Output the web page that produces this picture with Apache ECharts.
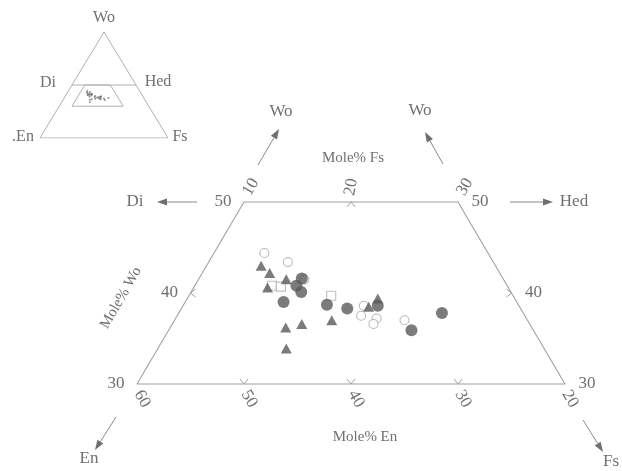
<!DOCTYPE html>
<html>
<head>
<meta charset="utf-8">
<script src="https://cdn.jsdelivr.net/npm/echarts@6/dist/echarts.min.js"></script>
<style>
  html, body { margin: 0; padding: 0; background: #fff; }
  #chart { width: 622px; height: 471px; }
</style>
</head>
<body>
<div id="chart"></div>
<script>
// Pyroxene quadrilateral (Di–Hed–En–Fs), compositions in mole %.
// Each point is given as Wo and Fs; En = 100 - Wo - Fs.
const filledCircleWo = [41.6, 40.8, 40.1, 39.0, 38.7, 38.3, 38.6, 35.9, 37.8];
const filledCircleFs = [19.6, 19.5, 20.3, 19.2, 23.4, 25.5, 28.2, 32.7, 34.6];
const triangleWo = [43.0, 42.2, 41.5, 40.6, 36.2, 36.6, 33.9, 37.0, 38.5, 39.4];
const triangleFs = [15.1, 16.3, 18.2, 16.9, 20.8, 22.1, 22.0, 24.7, 27.4, 27.8];
const openCircleWo = [44.4, 43.4, 41.5, 38.6, 37.5, 37.2, 36.6, 37.0];
const openCircleFs = [14.7, 17.4, 19.9, 26.9, 27.2, 28.8, 28.8, 31.5];
const squareWo = [40.8, 40.7, 39.7];
const squareFs = [17.2, 18.1, 23.3];

// Quadrilateral corners (Wo, Fs) and tick values
const quadWo = [50, 50, 30, 30];
const quadFs = [10, 30, 50, 10];
const enTickLabels = [60, 50, 40, 30, 20];
const fsTickLabels = [10, 20, 30];
const woTickLabels = [50, 40, 30];
const enTickMarks = [50, 40, 30];
const fsTickMarks = [20];
const woTickMarks = [40];

// ternary -> cartesian: x = Fs + Wo/2, y = Wo
function tern(wo, fs) { return [fs + wo / 2, wo]; }
function pts(woArr, fsArr) { return woArr.map((w, i) => tern(w, fsArr[i])); }

const SERIF = '"Liberation Serif", "DejaVu Serif", serif';
const TXT = '#707070';
const LINE = '#a0a0a0';
const MARK = '#5a5a5a';

const quadPts = pts(quadWo, quadFs);
quadPts.push(quadPts[0]);

// tick chevrons: [x, y, direction]
const tickData = [];
enTickMarks.forEach(en => tickData.push(tern(30, 70 - en).concat(['down'])));
fsTickMarks.forEach(fs => tickData.push(tern(50, fs).concat(['up'])));
woTickMarks.forEach(wo => {
  tickData.push(tern(wo, 10).concat(['left']));
  tickData.push(tern(wo, 80 - wo).concat(['right']));
});

// tick labels: [x, y, text, group]
const labelData = [];
enTickLabels.forEach(en => labelData.push(tern(30, 70 - en).concat([String(en), 'en'])));
fsTickLabels.forEach(fs => labelData.push(tern(50, fs).concat([String(fs), 'fs'])));
woTickLabels.forEach(wo => {
  labelData.push(tern(wo, 10).concat([String(wo), 'woL']));
  labelData.push(tern(wo, 80 - wo).concat([String(wo), 'woR']));
});

function renderTick(params, api) {
  const p = api.coord([api.value(0), api.value(1)]);
  const dir = tickData[params.dataIndex][2];
  const a = 4, d = 5;
  let pointsArr;
  if (dir === 'down') pointsArr = [[p[0] - a, p[1] - d], [p[0], p[1]], [p[0] + a, p[1] - d]];
  else if (dir === 'up') pointsArr = [[p[0] - a, p[1] + d], [p[0], p[1]], [p[0] + a, p[1] + d]];
  else if (dir === 'left') pointsArr = [[p[0] + d, p[1] - a], [p[0], p[1]], [p[0] + d, p[1] + a]];
  else pointsArr = [[p[0] - d, p[1] - a], [p[0], p[1]], [p[0] - d, p[1] + a]];
  return { type: 'polyline', shape: { points: pointsArr }, style: { stroke: LINE, lineWidth: 1, fill: null } };
}

function renderLabel(params, api) {
  const p = api.coord([api.value(0), api.value(1)]);
  const item = labelData[params.dataIndex];
  const text = item[2], grp = item[3];
  let dx = 0, dy = 0, rot = 0;
  if (grp === 'en') { dx = 5; dy = 15; rot = -60; }
  else if (grp === 'fs') { dx = text === '20' ? 0 : 7; dy = -15; rot = text === '20' ? 80 : 60; }
  else if (grp === 'woL') { dx = -21; }
  else { dx = 22; }
  return {
    type: 'text', x: p[0] + dx, y: p[1] + dy, rotation: rot * Math.PI / 180,
    style: { text: text, font: '17px ' + SERIF, fill: TXT, align: 'center', verticalAlign: 'middle' }
  };
}

function arrow(x1, y1, x2, y2) {
  const ang = Math.atan2(y2 - y1, x2 - x1);
  const L = 10, W = 3.5;
  const bx = x2 - L * Math.cos(ang), by = y2 - L * Math.sin(ang);
  const nx = -Math.sin(ang), ny = Math.cos(ang);
  return [
    { type: 'line', shape: { x1: x1, y1: y1, x2: bx, y2: by }, style: { stroke: '#8a8a8a', lineWidth: 1 } },
    { type: 'polygon', shape: { points: [[x2, y2], [bx + nx * W, by + ny * W], [bx - nx * W, by - ny * W]] }, style: { fill: '#6f6f6f' } }
  ];
}

function txt(x, y, s, size, rot) {
  return {
    type: 'text', x: x, y: y, rotation: (rot || 0) * Math.PI / 180,
    style: { text: s, font: size + 'px ' + SERIF, fill: TXT, align: 'center', verticalAlign: 'middle' }
  };
}

const graphics = []
  .concat(arrow(197, 202, 157, 202))
  .concat(arrow(510, 202, 553, 202))
  .concat(arrow(258, 165, 279, 129))
  .concat(arrow(443, 164, 425, 132))
  .concat(arrow(116, 417, 95, 450))
  .concat(arrow(583, 420, 603, 452))
  .concat([
    txt(135, 202, 'Di', 17), txt(574, 202, 'Hed', 17),
    txt(281, 112, 'Wo', 17), txt(420, 111, 'Wo', 17),
    txt(89, 459, 'En', 17), txt(611, 462, 'Fs', 17),
    txt(353, 158, 'Mole% Fs', 15), txt(365, 437, 'Mole% En', 15),
    txt(121, 298, 'Mole% Wo', 15, 60),
    txt(104, 18, 'Wo', 16), txt(48, 83, 'Di', 16), txt(158, 82, 'Hed', 16),
    txt(23, 137, '.En', 16), txt(180, 137, 'Fs', 16)
  ]);

const allPts = pts(openCircleWo, openCircleFs)
  .concat(pts(squareWo, squareFs))
  .concat(pts(triangleWo, triangleFs))
  .concat(pts(filledCircleWo, filledCircleFs));

const insetPts = pts(quadWo, quadFs);
insetPts.push(insetPts[0]);

const option = {
  animation: false,
  backgroundColor: '#fff',
  grid: [
    { left: 83.5, top: 156.5, width: 535, height: 273 },
    { left: 40, top: 32, width: 128, height: 106 }
  ],
  xAxis: [
    { type: 'value', min: 20, max: 70, show: false, gridIndex: 0 },
    { type: 'value', min: 0, max: 100, show: false, gridIndex: 1 }
  ],
  yAxis: [
    { type: 'value', min: 25, max: 55, show: false, gridIndex: 0 },
    { type: 'value', min: 0, max: 100, show: false, gridIndex: 1 }
  ],
  series: [
    { type: 'line', data: quadPts, symbol: 'none', lineStyle: { color: LINE, width: 1.1 }, silent: true },
    { type: 'custom', data: tickData.map(t => [t[0], t[1]]), renderItem: renderTick, silent: true },
    { type: 'custom', data: labelData.map(t => [t[0], t[1]]), renderItem: renderLabel, silent: true },
    {
      type: 'scatter', data: pts(openCircleWo, openCircleFs), symbol: 'circle', symbolSize: 9,
      itemStyle: { color: '#fff', borderColor: '#a8a8a8', borderWidth: 1.1 }
    },
    {
      type: 'scatter', data: pts(squareWo, squareFs), symbol: 'rect', symbolSize: 9,
      itemStyle: { color: '#fff', borderColor: '#b0b0b0', borderWidth: 1.1 }
    },
    {
      type: 'scatter', data: pts(triangleWo, triangleFs), symbol: 'triangle', symbolSize: [11, 10],
      itemStyle: { color: MARK }
    },
    {
      type: 'scatter', data: pts(filledCircleWo, filledCircleFs), symbol: 'circle', symbolSize: 12,
      itemStyle: { color: MARK }
    },
    // inset: full Wo–En–Fs triangle
    {
      type: 'line', xAxisIndex: 1, yAxisIndex: 1, data: [[0, 0], [100, 0], [50, 100], [0, 0]],
      symbol: 'none', lineStyle: { color: '#b0b0b0', width: 1 }, silent: true
    },
    {
      type: 'line', xAxisIndex: 1, yAxisIndex: 1, data: [[25, 50], [75, 50]],
      symbol: 'none', lineStyle: { color: '#b0b0b0', width: 1 }, silent: true
    },
    {
      type: 'line', xAxisIndex: 1, yAxisIndex: 1, data: insetPts,
      symbol: 'none', lineStyle: { color: '#b0b0b0', width: 1 }, silent: true
    },
    {
      type: 'scatter', xAxisIndex: 1, yAxisIndex: 1, data: allPts, symbol: 'circle', symbolSize: 2,
      itemStyle: { color: '#777' }, silent: true
    }
  ],
  graphic: graphics
};

const chart = echarts.init(document.getElementById('chart'), null, { renderer: 'canvas' });
chart.setOption(option);
</script>
</body>
</html>
